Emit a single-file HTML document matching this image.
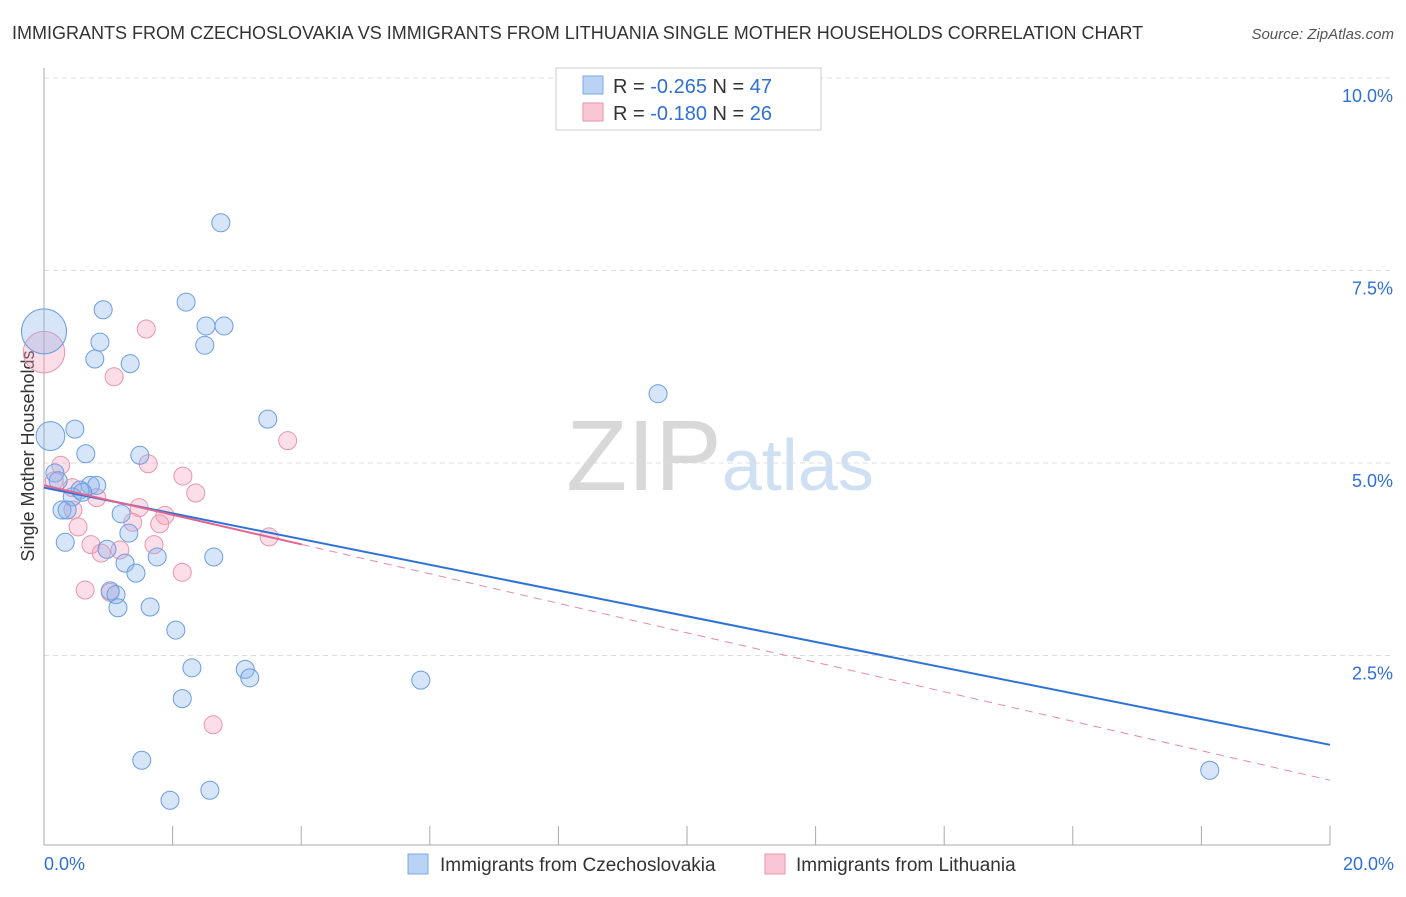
<!DOCTYPE html>
<html><head><meta charset="utf-8"><style>
body{margin:0;background:#fff;font-family:"Liberation Sans",sans-serif}
svg text{font-family:"Liberation Sans",sans-serif}
</style></head><body>
<svg width="1406" height="892" viewBox="0 0 1406 892">
<text x="12" y="39" font-size="18" fill="#333">IMMIGRANTS FROM CZECHOSLOVAKIA VS IMMIGRANTS FROM LITHUANIA SINGLE MOTHER HOUSEHOLDS CORRELATION CHART</text>
<text x="1394" y="39" font-size="15" fill="#555" font-style="italic" text-anchor="end">Source: ZipAtlas.com</text>
<text x="0" y="0" transform="translate(34,456) rotate(-90)" font-size="18" fill="#333" text-anchor="middle">Single Mother Households</text>
<text x="720" y="490" font-size="100" fill="#ddd" text-anchor="middle" font-family="Liberation Serif"><tspan fill="#d8d8d8">ZIP</tspan><tspan fill="#cfe0f3" font-family="Liberation Sans" font-size="72">atlas</tspan></text>
<g id="grid"></g><g id="axes"></g><g id="pts"></g><g id="lines"></g>
<g>
<rect x="556" y="68" width="265" height="62" fill="#fff" stroke="#ccc"/>
<rect x="583" y="76" width="20" height="18" fill="#bad3f5" stroke="#7aa7e6"/>
<rect x="583" y="103" width="20" height="18" fill="#f8c6d4" stroke="#eb94ae"/>
<text x="613" y="93" font-size="20" fill="#333">R = <tspan fill="#2f6fd6">-0.265</tspan>   N = <tspan fill="#2f6fd6">47</tspan></text>
<text x="613" y="120" font-size="20" fill="#333">R = <tspan fill="#2f6fd6">-0.180</tspan>   N = <tspan fill="#2f6fd6">26</tspan></text>
</g>
<g>
<rect x="408" y="854" width="20" height="20" fill="#bad3f5" stroke="#7aa7e6"/>
<text x="440" y="871" font-size="19" fill="#333">Immigrants from Czechoslovakia</text>
<rect x="765" y="854" width="20" height="20" fill="#f8c6d4" stroke="#eb94ae"/>
<text x="796" y="871" font-size="19" fill="#333">Immigrants from Lithuania</text>
</g>
</svg>
<script>
const blueX=[2.75,2.21,0.92,2.52,2.80,0.87,2.50,0.79,1.34,9.55,3.48,0.48,0.65,1.49,0.17,0.22,0.72,0.82,0.56,0.44,0.28,0.36,1.20,1.32,0.33,0.98,2.64,1.76,1.26,1.43,1.03,1.12,1.65,1.15,2.05,2.30,3.13,3.20,5.86,2.15,1.52,1.96,2.58,18.13,0.0,0.1,0.6];
const blueY=[8.12,7.09,6.99,6.78,6.78,6.57,6.53,6.35,6.29,5.90,5.57,5.44,5.12,5.10,4.87,4.77,4.71,4.71,4.65,4.56,4.39,4.39,4.34,4.09,3.97,3.88,3.78,3.78,3.70,3.57,3.34,3.29,3.13,3.12,2.83,2.34,2.32,2.21,2.18,1.94,1.14,0.62,0.75,1.01,6.71,5.35,4.62];
const blueS=[1,1,1,1,1,1,1,1,1,1,1,1,1,1,1,1,1,1,1,1,1,1,1,1,1,1,1,1,1,1,1,1,1,1,1,1,1,1,1,1,1,1,1,1,2.5,1.6,1];
const pinkX=[1.59,1.09,0.0,3.79,0.26,1.62,2.16,2.36,0.16,0.44,0.82,1.48,1.88,0.45,0.53,1.38,1.80,3.50,0.73,1.18,1.71,0.89,2.15,0.64,1.03,2.63];
const pinkY=[6.74,6.12,6.44,5.29,4.97,4.99,4.83,4.61,4.77,4.68,4.55,4.42,4.32,4.39,4.17,4.23,4.21,4.04,3.94,3.87,3.94,3.83,3.58,3.35,3.32,1.60];
const pinkS=[1,1,2.3,1,1,1,1,1,1,1,1,1,1,1,1,1,1,1,1,1,1,1,1,1,1,1];
const yTicks=[2.5,5.0,7.5,10.0];
const xTickLabels=["0.0%","20.0%"];
const blueTrend=[4.68,1.34];
const pinkTrend=[4.71,0.88];
const pinkSolidEnd=4.01;
const NS="http://www.w3.org/2000/svg";
const X=v=>44+v/20*1286, Y=v=>848-v*77;
function mk(t,a,p){const e=document.createElementNS(NS,t);for(const k in a)e.setAttribute(k,a[k]);p.appendChild(e);return e;}
const grid=document.getElementById('grid'),axes=document.getElementById('axes'),pts=document.getElementById('pts'),lines=document.getElementById('lines');
yTicks.forEach(v=>{
 const l=mk('line',{x1:44,x2:1394,y1:Y(v),y2:Y(v),stroke:'#ddd','stroke-dasharray':'5,4'},grid);
 
 
 const t=mk('text',{x:1393,y:Y(v)+24,'font-size':18,fill:'#2f6fd6','text-anchor':'end'},axes);
 t.textContent=v.toFixed(1)+'%';
 
 
});
const ax=mk('line',{x1:44,x2:44,y1:68,y2:845,stroke:'#aaa'},axes);


const bx=mk('line',{x1:44,x2:1330,y1:845,y2:845,stroke:'#aaa'},axes);


for(let i=1;i<=10;i++){const tk=mk('line',{x1:X(i*2),x2:X(i*2),y1:826,y2:845,stroke:'#aaa'},axes);
 
 }
const t0=mk('text',{x:44,y:870,'font-size':18,fill:'#2f6fd6'},axes);t0.textContent=xTickLabels[0];


const t1=mk('text',{x:1394,y:870,'font-size':18,fill:'#2f6fd6','text-anchor':'end'},axes);t1.textContent=xTickLabels[1];


pinkX.forEach((v,i)=>{const c=mk('circle',{cx:X(v),cy:Y(pinkY[i]),r:9*pinkS[i],fill:'rgba(244,160,185,0.35)',stroke:'#eb94ae','stroke-width':1},pts);
 
 });
blueX.forEach((v,i)=>{const c=mk('circle',{cx:X(v),cy:Y(blueY[i]),r:9*blueS[i],fill:'rgba(140,180,238,0.35)',stroke:'#6a9de3','stroke-width':1},pts);
 
 });
const bl=mk('line',{x1:X(0),y1:Y(blueTrend[0]),x2:X(20),y2:Y(blueTrend[1]),stroke:'#2f72d6','stroke-width':2},lines);


const py=x=>pinkTrend[0]+(pinkTrend[1]-pinkTrend[0])*x/20;
const pl=mk('line',{x1:X(0),y1:Y(pinkTrend[0]),x2:X(pinkSolidEnd),y2:Y(py(pinkSolidEnd)),stroke:'#e2638e','stroke-width':2},lines);


const pd=mk('line',{x1:X(pinkSolidEnd),y1:Y(py(pinkSolidEnd)),x2:X(20),y2:Y(pinkTrend[1]),stroke:'#e98aa8','stroke-width':1,'stroke-dasharray':'8,6'},lines);


</script>
</body></html>
